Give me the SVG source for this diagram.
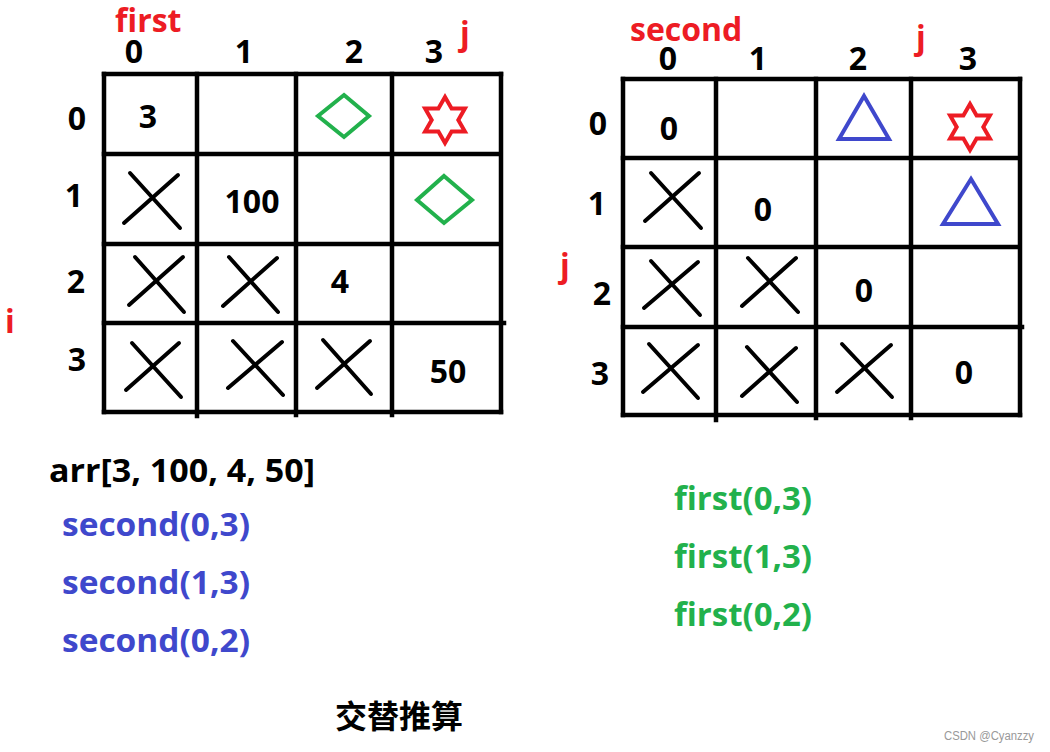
<svg xmlns="http://www.w3.org/2000/svg" width="1050" height="752" viewBox="0 0 1050 752">
<style>
.t{font-family:"Open Sans","Liberation Sans","Noto Sans CJK SC",sans-serif;font-weight:bold;font-size:32px;fill:#000}
.lbl{text-anchor:middle}
.red{fill:#ED1C24}
.blue{fill:#3F48CC}
.green{fill:#22B14C}
.grid{stroke:#000;stroke-width:4.5;stroke-linecap:square;fill:none}
.x{stroke:#000;stroke-width:4;stroke-linecap:round;fill:none}
.dia{stroke:#22B14C;stroke-width:4;fill:none}
.tri{stroke:#3F48CC;stroke-width:4;fill:none}
.star{stroke:#ED1C24;stroke-width:4;fill:none}
</style>
<defs>
<polygon id="starShape" points="0,-23 6.6,-11.5 19.9,-11.5 13.3,0 19.9,11.5 6.6,11.5 0,23 -6.6,11.5 -19.9,11.5 -13.3,0 -19.9,-11.5 -6.6,-11.5"/>
</defs>
<rect width="1050" height="752" fill="#fff"/>

<g id="left-grid">
<g id="left-grid-lines" class="grid">
<line x1="104" y1="74" x2="501" y2="74"/>
<line x1="104" y1="74" x2="104" y2="412"/>
<line x1="501" y1="74" x2="501" y2="412"/>
<line x1="104" y1="412" x2="501" y2="412"/>
<line x1="197" y1="74" x2="197" y2="416"/>
<line x1="296" y1="74" x2="296" y2="415"/>
<line x1="392" y1="74" x2="392" y2="415"/>
<line x1="104" y1="154" x2="499" y2="154"/>
<line x1="104" y1="244" x2="499" y2="244"/>
<line x1="104" y1="323" x2="504" y2="323"/>
</g>
<text class="t red" x="115" y="32">first</text>
<text class="t red" x="460" y="45">j</text>
<text class="t red" x="5" y="333">i</text>
<g class="t lbl">
<text x="134" y="63">0</text>
<text x="244" y="63">1</text>
<text x="354" y="63">2</text>
<text x="434" y="63">3</text>
<text x="77" y="130">0</text>
<text x="74" y="207">1</text>
<text x="76" y="293">2</text>
<text x="77" y="371">3</text>
<text x="148" y="128">3</text>
<text x="252" y="213">100</text>
<text x="340" y="293">4</text>
<text x="448" y="383">50</text>
</g>
<polygon class="dia" points="344,95 369,116 344,137 318,116"/>
<polygon class="dia" points="444,176 472,200 444,223 417,200"/>
<use href="#starShape" class="star" x="445" y="120"/>
<g class="x">
<line x1="130" y1="173" x2="180" y2="228"/><line x1="124" y1="223" x2="178" y2="175"/>
<line x1="135" y1="257" x2="184" y2="312"/><line x1="129" y1="305" x2="183" y2="257"/>
<line x1="229" y1="257" x2="278" y2="312"/><line x1="223" y1="306" x2="277" y2="258"/>
<line x1="132" y1="343" x2="181" y2="397"/><line x1="126" y1="390" x2="179" y2="343"/>
<line x1="233" y1="341" x2="283" y2="395"/><line x1="228" y1="388" x2="282" y2="342"/>
<line x1="323" y1="340" x2="371" y2="394"/><line x1="317" y1="388" x2="370" y2="341"/>
</g>
</g>

<g id="right-grid">
<g id="right-grid-lines" class="grid">
<line x1="623" y1="79" x2="1020" y2="79"/>
<line x1="623" y1="79" x2="623" y2="415"/>
<line x1="1020" y1="79" x2="1020" y2="415"/>
<line x1="623" y1="415" x2="1020" y2="415"/>
<line x1="716" y1="79" x2="716" y2="420"/>
<line x1="816" y1="79" x2="816" y2="418"/>
<line x1="911" y1="79" x2="911" y2="418"/>
<line x1="623" y1="158" x2="1017" y2="158"/>
<line x1="623" y1="247" x2="1018" y2="247"/>
<line x1="623" y1="327" x2="1022" y2="327"/>
</g>
<text class="t red" x="630" y="41">second</text>
<text class="t red" x="916" y="49">j</text>
<text class="t red" x="560" y="277">j</text>
<g class="t lbl">
<text x="668" y="70">0</text>
<text x="758" y="70">1</text>
<text x="858" y="70">2</text>
<text x="968" y="70">3</text>
<text x="598" y="135">0</text>
<text x="597" y="215">1</text>
<text x="602" y="305">2</text>
<text x="600" y="385">3</text>
<text x="669" y="140">0</text>
<text x="763" y="221">0</text>
<text x="864" y="302">0</text>
<text x="964" y="384">0</text>
</g>
<polygon class="tri" points="864,96 889,139 839,139"/>
<polygon class="tri" points="971,179 998,224 943,224"/>
<use href="#starShape" class="star" x="970" y="127"/>
<g class="x">
<line x1="651" y1="173" x2="701" y2="228"/><line x1="645" y1="221" x2="699" y2="173"/>
<line x1="651" y1="261" x2="700" y2="315"/><line x1="644" y1="308" x2="698" y2="262"/>
<line x1="748" y1="258" x2="798" y2="312"/><line x1="742" y1="306" x2="796" y2="258"/>
<line x1="649" y1="344" x2="698" y2="398"/><line x1="643" y1="392" x2="698" y2="345"/>
<line x1="747" y1="347" x2="797" y2="402"/><line x1="742" y1="396" x2="796" y2="348"/>
<line x1="842" y1="344" x2="892" y2="397"/><line x1="837" y1="392" x2="891" y2="345"/>
</g>
</g>

<g id="notes">
<text class="t" x="49" y="482" textLength="266" lengthAdjust="spacingAndGlyphs">arr[3, 100, 4, 50]</text>
<text class="t blue" x="62" y="536" textLength="188" lengthAdjust="spacingAndGlyphs">second(0,3)</text>
<text class="t blue" x="62" y="594" textLength="188" lengthAdjust="spacingAndGlyphs">second(1,3)</text>
<text class="t blue" x="62" y="652" textLength="188" lengthAdjust="spacingAndGlyphs">second(0,2)</text>
<text class="t green" x="674" y="510" textLength="138" lengthAdjust="spacingAndGlyphs">first(0,3)</text>
<text class="t green" x="674" y="568" textLength="138" lengthAdjust="spacingAndGlyphs">first(1,3)</text>
<text class="t green" x="674" y="626" textLength="138" lengthAdjust="spacingAndGlyphs">first(0,2)</text>
<text x="399" y="728" text-anchor="middle" style="font-family:'Noto Sans CJK SC',sans-serif;font-weight:bold;font-size:32px;fill:#000">交替推算</text>
<text x="944" y="740" textLength="90" lengthAdjust="spacingAndGlyphs" style="font-family:'Liberation Sans',Arial,sans-serif;font-size:12px;fill:#999">CSDN @Cyanzzy</text>
</g>
</svg>
